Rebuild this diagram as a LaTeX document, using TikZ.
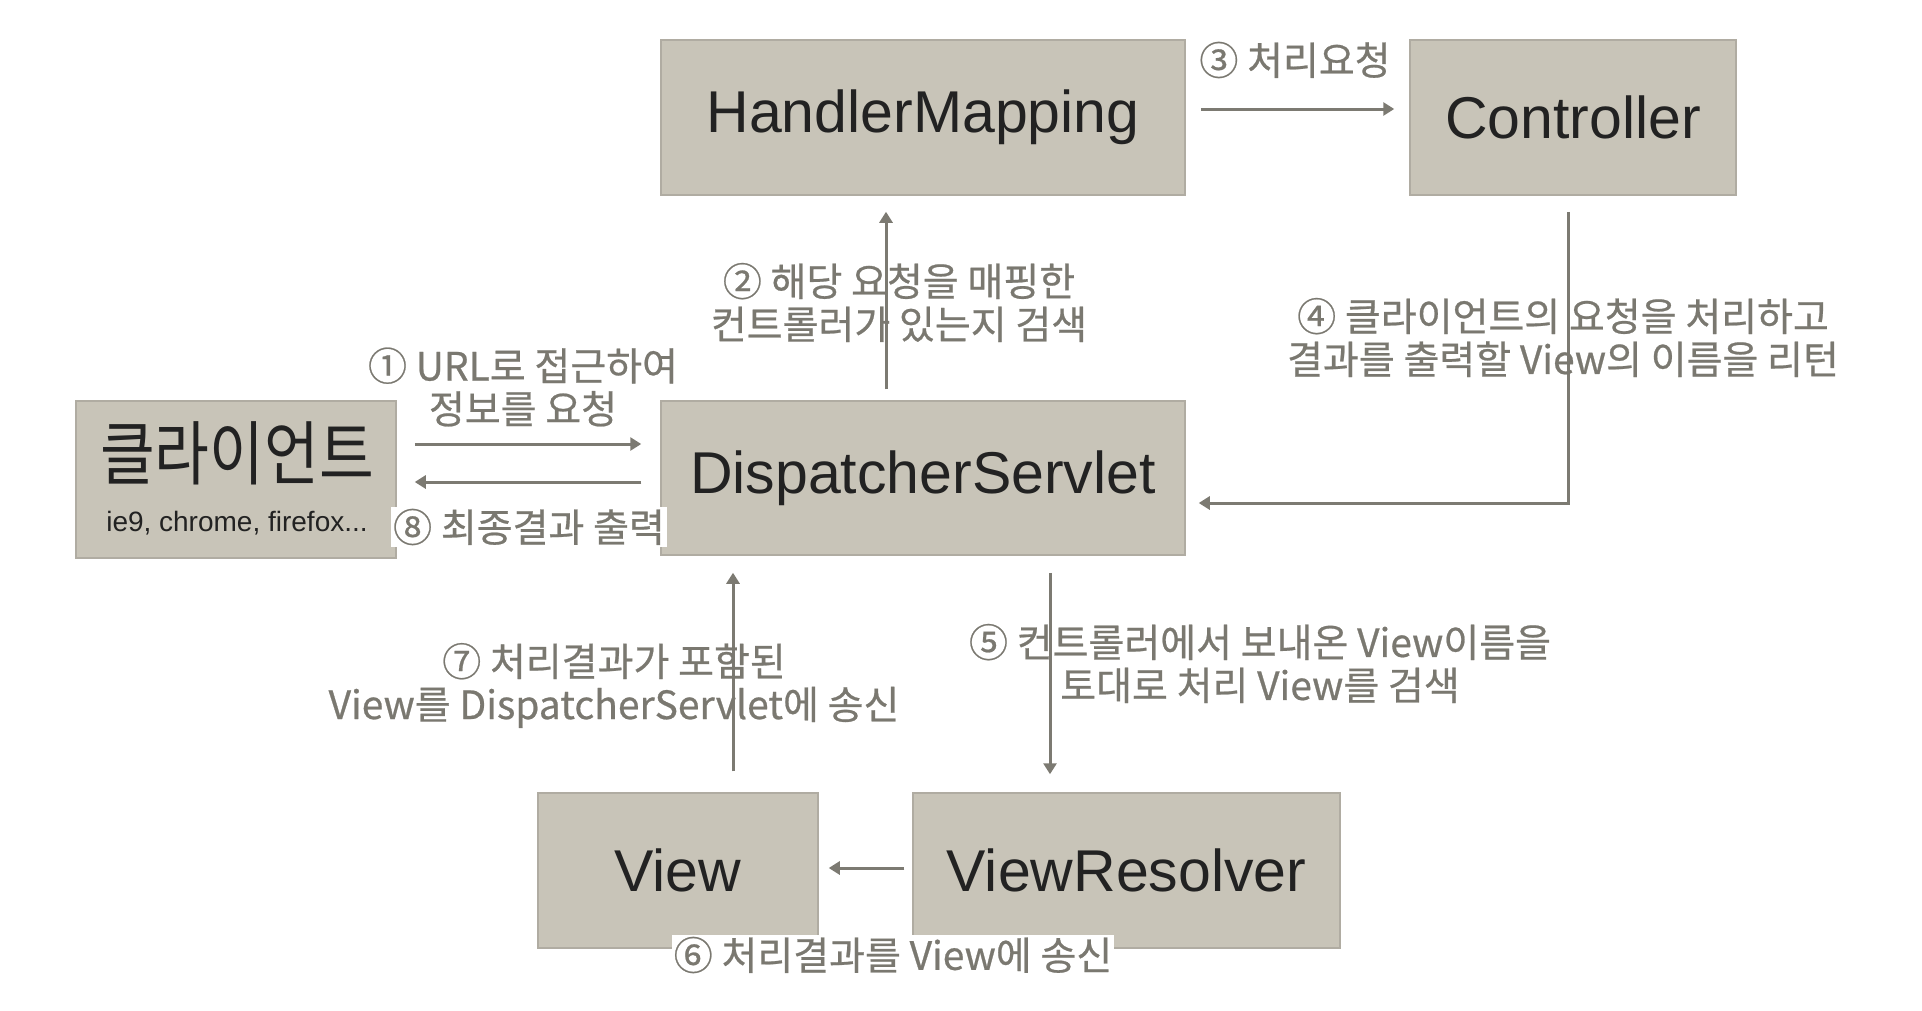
\documentclass[tikz,border=0pt]{standalone}
\usepackage{fontspec}
\setmainfont{Liberation Sans}
\newfontfamily\krfont[FakeBold=0.6]{Noto Sans CJK KR}
\newfontfamily\krnarrow[FakeStretch=0.85]{Noto Sans CJK KR}
\usetikzlibrary{calc,arrows.meta}
\definecolor{boxfill}{RGB}{200,196,184}
\definecolor{boxline}{RGB}{176,172,162}
\definecolor{flowgray}{RGB}{124,122,114}
\definecolor{textgray}{RGB}{122,120,112}
\definecolor{namecol}{RGB}{34,34,34}

\begin{document}
\begin{tikzpicture}[
  x=1pt, y=-1pt,
  mvcbox/.style={rectangle, draw=boxline, line width=1.5pt, fill=boxfill,
    inner sep=0pt, text=namecol, minimum height=155pt,
    font=\fontsize{59}{59}\selectfont},
  steplabel/.style={text=textgray, align=center, inner sep=2pt,
    font=\krfont\fontsize{39}{43}\selectfont},
  flow/.style={draw=flowgray, line width=3pt, -{Triangle[length=11pt,width=13pt]}}
]
\useasboundingbox (0,0) rectangle (1922,1010);

% boxes
\node[mvcbox, minimum width=524pt] (HM) at (923,117.5) {HandlerMapping};
\node[mvcbox, minimum width=326pt] (ctrl) at (1573,117.5) {Controller};
\node[mvcbox, minimum width=320pt, minimum height=157pt] (client) at (236,479.5) {};
\node[text=namecol, font=\krnarrow\fontsize{70}{70}\selectfont] (clientname) at (237,453) {클라이언트};
\node[text=namecol, font=\fontsize{28}{28}\selectfont] (clientsub) at (237,523) {ie9, chrome, firefox...};
\node[mvcbox, minimum width=524pt, minimum height=154pt] (DS) at (923,478) {DispatcherServlet};
\node[mvcbox, minimum width=280pt] (View) at (678,870.5) {View};
\node[mvcbox, minimum width=427pt] (VR) at (1126.5,870.5) {ViewResolver};

% flow
\draw[flow, shorten <=18pt, shorten >=19pt] ($(client.east)+(0,-35.5)$) -- ($(DS.west)+(0,-34)$);
\draw[flow, shorten <=11pt, shorten >=16pt] ($(DS.north)+(-37,0)$) -- ($(HM.south)+(-37,0)$);
\draw[flow, shorten <=15pt, shorten >=15pt] ($(HM.east)+(0,-8.5)$) -- ($(ctrl.west)+(0,-8.5)$);
\draw[flow, shorten <=16pt, shorten >=13pt] ($(ctrl.south)+(-5,0)$) |- ($(DS.east)+(0,25)$);
\draw[flow, shorten <=17pt, shorten >=18pt] ($(DS.south)+(127,0)$) -- ($(VR.north)+(-76.5,0)$);
\draw[flow, shorten <=8pt, shorten >=10pt] ($(VR.west)+(0,-2.5)$) -- ($(View.east)+(0,-2.5)$);
\draw[flow, shorten <=21pt, shorten >=17pt] ($(View.north)+(55,0)$) -- ($(DS.south)+(-190,0)$);
\draw[flow, shorten <=19pt, shorten >=18pt] ($(DS.west)+(0,4)$) -- ($(client.east)+(0,2.5)$);

% labels
\node[steplabel] (lblone) at (523,387) {① URL로 접근하여\\정보를 요청};
\node[steplabel] (lbltwo) at (899,302.5) {② 해당 요청을 매핑한\\컨트롤러가 있는지 검색};
\node[steplabel] (lblthree) at (1295,60) {③ 처리요청};
\node[steplabel] (lblfour) at (1563,337.5) {④ 클라이언트의 요청을 처리하고\\결과를 출력할 View의 이름을 리턴};
\node[steplabel] (lblfive) at (1260,663.5) {⑤ 컨트롤러에서 보내온 View이름을\\토대로 처리 View를 검색};
\node[steplabel, fill=white] (lblsix) at (893,955) {⑥ 처리결과를 View에 송신};
\node[steplabel] (lblseven) at (614,685.5) {⑦ 처리결과가 포함된\\View를 DispatcherServlet에 송신};
\node[steplabel, fill=white] (lbleight) at (529,527) {⑧ 최종결과 출력};
\end{tikzpicture}
\end{document}
